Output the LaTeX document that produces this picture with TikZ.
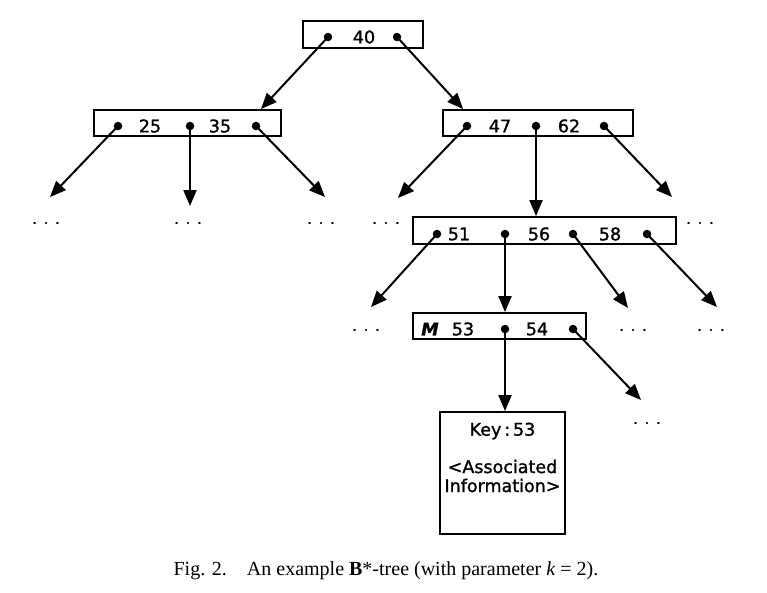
\documentclass[tikz,border=0pt]{standalone}
\usepackage{fontspec}
\setmainfont{Liberation Serif}
\newfontfamily\lettering[FakeBold=1.3]{DejaVu Sans}
\usetikzlibrary{arrows.meta}
\newcommand{\dotrow}{.\hspace{7pt}.\hspace{7pt}.}
\begin{document}
\begin{tikzpicture}[x=1pt,y=-1pt,
  rec/.style={draw, line width=1.8pt, inner sep=0pt},
  key/.style={font=\lettering\fontsize{17.5}{17.5}\selectfont, inner sep=0pt, anchor=center},
  ptr/.style={circle, fill, inner sep=0pt, minimum size=8.5pt},
  link/.style={line width=2pt, -{Triangle[length=16pt,width=13pt]}},
  more/.style={font=\lettering\fontsize{14}{14}\selectfont, inner sep=0pt}]
\useasboundingbox (0,0) rectangle (767,592);

% index pages of the tree
\node[rec, minimum width=120pt, minimum height=27pt] (root) at (363,34.5) {};
\node[rec, minimum width=187pt, minimum height=26pt] (la) at (187.5,123) {};
\node[rec, minimum width=190pt, minimum height=26pt] (lb) at (538,123) {};
\node[rec, minimum width=263pt, minimum height=27pt] (lc) at (544.5,230.5) {};
\node[rec, minimum width=173pt, minimum height=26pt] (ld) at (499.5,326) {};
\node[rec, minimum width=125pt, minimum height=122pt] (data) at (502.5,473) {};

% keys
\node[key] at (364,37) {40};
\node[key] at (150,126) {25};
\node[key] at (220,126) {35};
\node[key] at (500,126) {47};
\node[key] at (569,126) {62};
\node[key] at (459,234) {51};
\node[key] at (539,234) {56};
\node[key] at (610,234) {58};
\node[key] at (430,329) {\bfseries\itshape M};
\node[key] at (463,329) {53};
\node[key] at (537,329) {54};

% record contents
\node[key] at (502.5,431) {Key\,:\,53};
\node[key, align=center, font=\lettering\fontsize{17.5}{19}\selectfont] at (502.5,476) {<Associated\\Information>};

% pointers
\node[ptr] (r1) at (328,37) {};
\node[ptr] (r2) at (397,37) {};
\node[ptr] (a1) at (118,126) {};
\node[ptr] (a2) at (190,126) {};
\node[ptr] (a3) at (256,126) {};
\node[ptr] (b1) at (467,126) {};
\node[ptr] (b2) at (536,126) {};
\node[ptr] (b3) at (604,126) {};
\node[ptr] (c1) at (437,234) {};
\node[ptr] (c2) at (505,234) {};
\node[ptr] (c3) at (573,234) {};
\node[ptr] (c4) at (647,234) {};
\node[ptr] (d1) at (505,329) {};
\node[ptr] (d2) at (573,329) {};

% pages not shown
\node[more] (ea1) at (46,223) {\dotrow};
\node[more] (ea2) at (188,223) {\dotrow};
\node[more] (ea3) at (321,223) {\dotrow};
\node[more] (eb1) at (386,223) {\dotrow};
\node[more] (eb3) at (700,223) {\dotrow};
\node[more] (ec1) at (366,330) {\dotrow};
\node[more] (ec3) at (633,330) {\dotrow};
\node[more] (ec4) at (711,330) {\dotrow};
\node[more] (ed2) at (647,423) {\dotrow};

% arrow tips toward the pages not shown
\coordinate (ta1) at (50,197);
\coordinate (ta2) at (190,206);
\coordinate (ta3) at (325,197);
\coordinate (tb1) at (398,198);
\coordinate (tb3) at (672,197);
\coordinate (tc1) at (371,307);
\coordinate (tc3) at (628,308);
\coordinate (tc4) at (717,307);
\coordinate (td2) at (641,400);

% links
\draw[link] (r1.center) -- ([xshift=-21pt]la.north east);
\draw[link] (r2.center) -- ([xshift=21pt]lb.north west);
\draw[link] (a1.center) -- (ta1);
\draw[link] (a2.center) -- (ta2);
\draw[link] (a3.center) -- (ta3);
\draw[link] (b1.center) -- (tb1);
\draw[link] (b2.center) -- (b2 |- lc.north);
\draw[link] (b3.center) -- (tb3);
\draw[link] (c1.center) -- (tc1);
\draw[link] (c2.center) -- (c2 |- ld.north);
\draw[link] (c3.center) -- (tc3);
\draw[link] (c4.center) -- (tc4);
\draw[link] (d1.center) -- (d1 |- data.north);
\draw[link] (d2.center) -- (td2);

% caption
\node[font=\fontsize{20}{20}\selectfont, inner sep=0pt] (cap) at (386,571)
  {Fig. 2.\hspace{1em}An example \textbf{B}*-tree (with parameter \textit{k} = 2).};
\end{tikzpicture}
\end{document}
